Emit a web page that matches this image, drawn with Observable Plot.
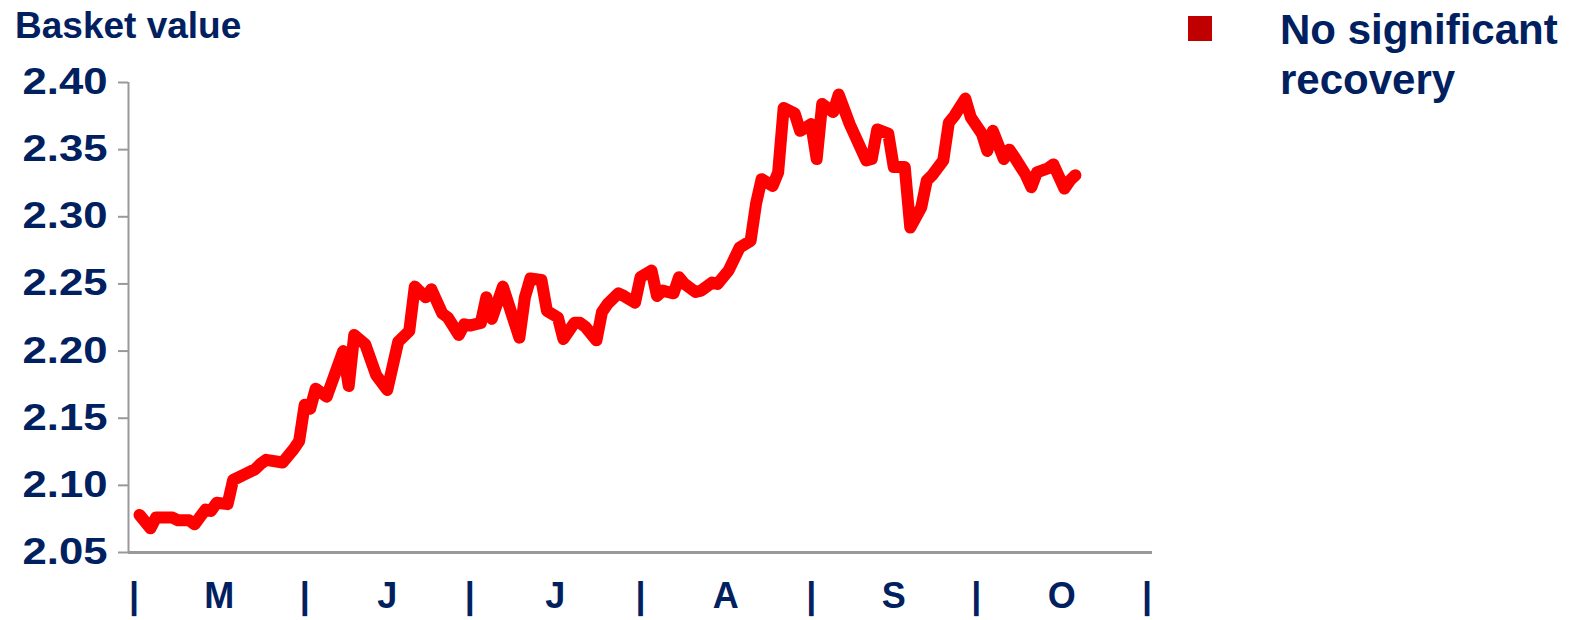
<!DOCTYPE html>
<html>
<head>
<meta charset="utf-8">
<script src="https://cdn.jsdelivr.net/npm/d3@7"></script>
<script src="https://cdn.jsdelivr.net/npm/@observablehq/plot@0.6"></script>
<style>
  html, body { margin: 0; padding: 0; background: #fff; }
  #wrap { position: relative; width: 1571px; height: 620px; font-family: "Liberation Sans", Arial, sans-serif; font-weight: bold; color: #002060; }
  #title { position: absolute; left: 15px; top: 7px; font-size: 37px; line-height: 37px; white-space: nowrap; }
  #legend-swatch { position: absolute; left: 1188px; top: 16px; width: 24px; height: 25px; background: #c00000; }
  #legend-text { position: absolute; left: 1280px; top: 5px; font-size: 42px; line-height: 50px; white-space: nowrap; }
  #chart { position: absolute; left: 0; top: 0; }
</style>
</head>
<body>
<div id="wrap">
  <div id="chart"></div>
  <div id="title">Basket value</div>
  <div id="legend-swatch"></div>
  <div id="legend-text">No significant<br>recovery</div>
</div>
<script>
// ---- data ----
const dates = [
  "2010-05-02","2010-05-04","2010-05-05","2010-05-08","2010-05-09","2010-05-11","2010-05-12","2010-05-14","2010-05-15","2010-05-16",
  "2010-05-18","2010-05-19","2010-05-21","2010-05-23","2010-05-24","2010-05-25","2010-05-28","2010-05-30","2010-05-31",
  "2010-06-01","2010-06-02","2010-06-03","2010-06-05","2010-06-08","2010-06-09","2010-06-10","2010-06-12","2010-06-14","2010-06-16",
  "2010-06-18","2010-06-20","2010-06-21","2010-06-23","2010-06-24","2010-06-26","2010-06-27","2010-06-29","2010-06-30",
  "2010-07-01","2010-07-03","2010-07-04","2010-07-05","2010-07-07","2010-07-10","2010-07-11","2010-07-12","2010-07-14","2010-07-15",
  "2010-07-17","2010-07-18","2010-07-20","2010-07-21","2010-07-22","2010-07-24","2010-07-25","2010-07-26","2010-07-28","2010-07-29","2010-07-31",
  "2010-08-01","2010-08-03","2010-08-04","2010-08-05","2010-08-07","2010-08-08","2010-08-09","2010-08-11","2010-08-12","2010-08-14",
  "2010-08-15","2010-08-17","2010-08-19","2010-08-21","2010-08-22","2010-08-23","2010-08-25","2010-08-26","2010-08-27","2010-08-29","2010-08-30",
  "2010-09-01","2010-09-02","2010-09-03","2010-09-05","2010-09-06","2010-09-08","2010-09-11","2010-09-12","2010-09-13","2010-09-15",
  "2010-09-16","2010-09-18","2010-09-19","2010-09-21","2010-09-22","2010-09-23","2010-09-25","2010-09-26","2010-09-27","2010-09-29","2010-09-30",
  "2010-10-02","2010-10-03","2010-10-04","2010-10-06","2010-10-07","2010-10-08","2010-10-10","2010-10-11","2010-10-12","2010-10-14",
  "2010-10-15","2010-10-17","2010-10-18","2010-10-19"
];
const basketValues = [
  2.078, 2.068, 2.076, 2.076, 2.074, 2.074, 2.071, 2.082, 2.081, 2.087,
  2.086, 2.104, 2.108, 2.112, 2.116, 2.119, 2.117, 2.127, 2.133,
  2.160, 2.157, 2.172, 2.166, 2.200, 2.174, 2.212, 2.205, 2.182, 2.171,
  2.207, 2.215, 2.248, 2.240, 2.246, 2.228, 2.225, 2.212, 2.220,
  2.219, 2.221, 2.240, 2.224, 2.248, 2.210, 2.240, 2.254, 2.253, 2.230,
  2.225, 2.209, 2.221, 2.221, 2.218, 2.208, 2.229, 2.235, 2.243, 2.241, 2.236,
  2.255, 2.260, 2.241, 2.245, 2.243, 2.255, 2.250, 2.244, 2.245, 2.251,
  2.250, 2.260, 2.277, 2.282, 2.310, 2.328, 2.323, 2.333, 2.381, 2.377, 2.364,
  2.369, 2.343, 2.384, 2.378, 2.391, 2.369, 2.342, 2.343, 2.365, 2.362,
  2.337, 2.337, 2.292, 2.307, 2.327, 2.331, 2.342, 2.370, 2.375, 2.388, 2.374,
  2.362, 2.349, 2.364, 2.343, 2.350, 2.344, 2.331, 2.322, 2.333, 2.336,
  2.339, 2.321, 2.327, 2.331
];
const yTicks = [2.05, 2.10, 2.15, 2.20, 2.25, 2.30, 2.35, 2.40];
const monthStarts = ["2010-05-01","2010-06-01","2010-07-01","2010-08-01","2010-09-01","2010-10-01","2010-11-01"];
const monthLetters = ["M","J","J","A","S","O"];
const xDomain = ["2010-04-30","2010-11-02"];

// ---- build ----
const parse = d3.utcParse("%Y-%m-%d");
const data = dates.map((d, i) => ({date: parse(d), value: basketValues[i]}));
const starts = monthStarts.map(parse);
const mids = monthLetters.map((_, i) => new Date((+starts[i] + +starts[i + 1]) / 2));
const midLabel = new Map(mids.map((d, i) => [+d, monthLetters[i]]));
const navy = "#002060";
const grey = "#999999";

const chart = Plot.plot({
  width: 1571,
  height: 620,
  marginLeft: 128,
  marginRight: 419,
  marginTop: 82,
  marginBottom: 68,
  style: {fontFamily: "'Liberation Sans', Arial, sans-serif", fontWeight: "bold", fontSize: "36px", color: navy, background: "transparent"},
  x: {type: "utc", domain: xDomain.map(parse)},
  y: {domain: [2.05, 2.40]},
  marks: [
    Plot.axisY({ticks: yTicks, tickFormat: d3.format(".2f"), tickSize: 10, tickPadding: 11,
      stroke: grey, strokeWidth: 2, strokeOpacity: 1, fill: navy, fontSize: 36, fontWeight: "bold", label: null}),
    Plot.axisX(starts, {tickFormat: () => "|", tickSize: 0, tickPadding: 30,
      fill: navy, fontSize: 36, fontWeight: "bold", label: null}),
    Plot.axisX(mids, {tickFormat: d => midLabel.get(+d), tickSize: 0, tickPadding: 30,
      fill: navy, fontSize: 36, fontWeight: "bold", label: null}),
    Plot.ruleX([parse(xDomain[0])], {stroke: grey, strokeWidth: 2}),
    Plot.ruleY([2.05], {stroke: grey, strokeWidth: 3}),
    Plot.line(data, {x: "date", y: "value", stroke: "#ff0000", strokeWidth: 12,
      strokeLinejoin: "round", strokeLinecap: "round"})
  ]
});
// the reference's value labels are drawn wider than the plain font
d3.select(chart).selectAll('g[aria-label="y-axis tick label"] text')
  .attr("textLength", 85).attr("lengthAdjust", "spacingAndGlyphs");
document.getElementById("chart").appendChild(chart);
</script>
</body>
</html>
